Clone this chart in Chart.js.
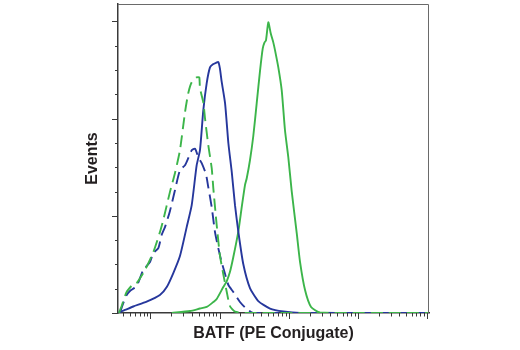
<!DOCTYPE html>
<html>
<head>
<meta charset="utf-8">
<script src="https://cdn.jsdelivr.net/npm/chart.js@4.4.1/dist/chart.umd.min.js"></script>
<style>
  html, body { margin: 0; padding: 0; background: #ffffff; }
  #wrap { width: 520px; height: 350px; }
</style>
</head>
<body>
<div id="wrap"><canvas id="chart" width="520" height="350"></canvas></div>
<script>
// PE fluorescence intensity (log channel) and event counts for each histogram
const xRange = [3.39, 107000];
const yRange = [0, 3.18];

// Treated cells, BATF (PE) – solid green
const greenX = [20.3, 37.3, 52.0, 65.0, 81.1, 90.8, 113, 127, 141, 158, 187, 209, 233, 247, 275, 307, 344, 385, 421, 447, 469, 507, 549, 598, 634, 707, 792, 883, 986, 1104, 1306, 1459, 1722, 2104, 2838, 10000, 107000];
const greenY = [0, 0.02, 0.046, 0.062, 0.113, 0.144, 0.267, 0.329, 0.421, 0.576, 0.843, 1.089, 1.316, 1.387, 1.572, 1.819, 2.158, 2.497, 2.724, 2.785, 2.806, 2.991, 2.878, 2.785, 2.703, 2.528, 2.292, 1.881, 1.603, 1.254, 0.822, 0.524, 0.236, 0.062, 0.005, 0, 0];

// Untreated cells, BATF (PE) – solid blue
const blueX = [3.42, 3.74, 4.27, 5.64, 8.81, 13.7, 17.2, 21.4, 26.7, 33.4, 39.5, 46.6, 52.0, 58.1, 65.0, 72.6, 80.2, 88.7, 95.7, 101, 107, 120, 134, 150, 167, 187, 220, 275, 363, 536, 836, 1459, 107000];
const blueY = [0, 0.015, 0.031, 0.067, 0.116, 0.185, 0.267, 0.411, 0.586, 0.884, 1.110, 1.521, 1.675, 2.086, 2.364, 2.528, 2.559, 2.575, 2.583, 2.518, 2.384, 2.158, 1.747, 1.449, 1.110, 0.832, 0.504, 0.257, 0.123, 0.046, 0.015, 0, 0];

// Treated cells, isotype control – dashed green
const isoGreenX = [3.50, 3.83, 4.52, 5.64, 6.31, 8.32, 11.0, 13.7, 15.3, 19.1, 22.6, 26.7, 31.6, 35.2, 39.5, 46.6, 50.8, 52.0, 58.1, 61.5, 68.6, 76.9, 81.1, 90.8, 101, 113, 127, 141, 167, 247, 107000];
const isoGreenY = [0, 0.072, 0.216, 0.298, 0.308, 0.442, 0.627, 0.832, 0.956, 1.244, 1.439, 1.675, 2.066, 2.261, 2.374, 2.425, 2.425, 2.312, 2.169, 2.004, 1.727, 1.490, 1.285, 0.904, 0.596, 0.401, 0.216, 0.072, 0.015, 0, 0];

// Untreated cells, isotype control – dashed blue
const isoBlueX = [3.62, 4.00, 4.52, 5.05, 6.31, 7.87, 9.84, 11.0, 13.0, 14.5, 16.2, 19.1, 22.6, 26.7, 31.6, 35.2, 39.5, 44.1, 49.2, 55.1, 63.5, 68.6, 76.9, 85.8, 95.7, 107, 120, 134, 158, 197, 247, 307, 107000];
const isoBlueY = [0, 0.093, 0.185, 0.226, 0.277, 0.442, 0.524, 0.617, 0.668, 0.802, 0.884, 1.048, 1.264, 1.470, 1.521, 1.593, 1.675, 1.691, 1.603, 1.542, 1.429, 1.295, 1.089, 0.832, 0.668, 0.524, 0.401, 0.288, 0.216, 0.113, 0.041, 0, 0];

const xTitle = 'BATF (PE Conjugate)';
const yTitle = 'Events';

const GREEN = '#3cb54a';
const BLUE = '#26379c';
const INK = '#231f20';
const AXIS = '#3a3a3a';
const TITLE_FONT = { family: '"Liberation Sans", Arial, sans-serif', size: 16, weight: 'bold' };

const toPoints = (xs, ys) => xs.map((x, i) => ({ x, y: ys[i] }));

// Tick marks: long at decades / whole units, short in between
const tickMarks = {
  id: 'tickMarks',
  afterDraw(chart) {
    const { ctx, chartArea: a, scales: { x, y } } = chart;
    ctx.save();
    ctx.lineWidth = 1;

    // thin frame on top and right
    ctx.strokeStyle = '#6a6a6a';
    ctx.beginPath();
    ctx.moveTo(a.left, a.top + 0.5);
    ctx.lineTo(a.right - 0.5, a.top + 0.5);
    ctx.lineTo(a.right - 0.5, a.bottom);
    ctx.stroke();

    ctx.strokeStyle = AXIS;
    ctx.beginPath();
    x.ticks.forEach(t => {
      const v = t.value;
      const e = Math.floor(Math.log10(v) + 1e-9);
      const s = v / Math.pow(10, e);
      if (Math.abs(s - Math.round(s)) > 1e-6) return;
      const px = Math.round(x.getPixelForValue(v)) + 0.5;
      const len = Math.round(s) === 1 ? 6 : 3.5;
      ctx.moveTo(px, a.bottom);
      ctx.lineTo(px, a.bottom + len);
    });
    y.ticks.forEach(t => {
      const v = t.value;
      if (Math.abs(v / 0.25 - Math.round(v / 0.25)) > 1e-6) return;
      const py = Math.round(y.getPixelForValue(v)) + 0.5;
      const len = Math.abs(v - Math.round(v)) < 1e-6 ? 6 : 3;
      ctx.moveTo(a.left - len, py);
      ctx.lineTo(a.left, py);
    });
    ctx.stroke();
    ctx.restore();
  }
};

const line = (data, color, dashed) => ({
  data,
  borderColor: color,
  borderWidth: 1.9,
  borderDash: dashed ? [12, 6] : [],
  pointRadius: 0,
  tension: 0.2,
  fill: false
});

new Chart(document.getElementById('chart'), {
  type: 'line',
  data: {
    datasets: [
      line(toPoints(isoGreenX, isoGreenY), GREEN, true),
      line(toPoints(isoBlueX, isoBlueY), BLUE, true),
      line(toPoints(blueX, blueY), BLUE, false),
      line(toPoints(greenX, greenY), GREEN, false)
    ]
  },
  options: {
    responsive: false,
    animation: false,
    devicePixelRatio: 1,
    layout: { padding: { left: 83, right: 91, top: 4, bottom: 6.8 } },
    plugins: { legend: { display: false }, tooltip: { enabled: false } },
    scales: {
      x: {
        type: 'logarithmic',
        min: xRange[0],
        max: xRange[1],
        ticks: { display: false, autoSkip: false },
        grid: { display: true, drawOnChartArea: false, drawTicks: true, tickLength: 6, tickColor: 'rgba(0,0,0,0)', color: 'rgba(0,0,0,0)' },
        border: { display: true, color: AXIS, width: 1.5 },
        title: { display: true, text: xTitle, color: INK, font: TITLE_FONT, padding: { top: 5, bottom: 0 } }
      },
      y: {
        type: 'linear',
        min: yRange[0],
        max: yRange[1],
        ticks: { display: false, stepSize: 0.25, maxTicksLimit: 100, autoSkip: false },
        grid: { display: true, drawOnChartArea: false, drawTicks: true, tickLength: 6, tickColor: 'rgba(0,0,0,0)', color: 'rgba(0,0,0,0)' },
        border: { display: true, color: AXIS, width: 1.5 },
        title: { display: true, text: yTitle, color: INK, font: TITLE_FONT, padding: { top: 0, bottom: 9.8 } }
      }
    }
  },
  plugins: [tickMarks]
});
</script>
</body>
</html>
